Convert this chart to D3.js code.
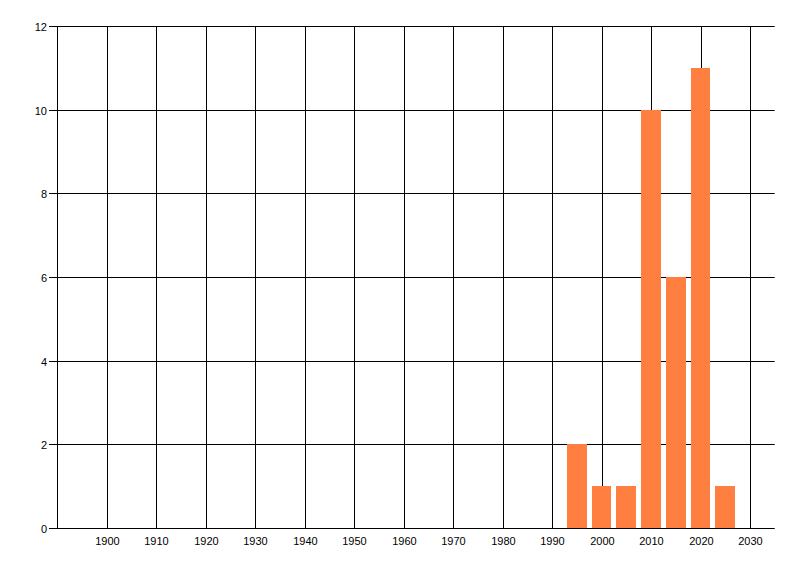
<!DOCTYPE html>
<html>
<head>
<meta charset="utf-8">
<script src="https://cdn.jsdelivr.net/npm/d3@7"></script>
<style>
html,body{margin:0;padding:0;background:#fff;}
svg{display:block;}
text{font-family:"Liberation Sans",Arial,sans-serif;font-size:11px;fill:#000;}
</style>
</head>
<body>
<svg id="chart" width="800" height="576"></svg>
<script>
const years = [1995, 2000, 2005, 2010, 2015, 2020, 2025];
const counts = [2, 1, 1, 10, 6, 11, 1];
const xTicks = [1900, 1910, 1920, 1930, 1940, 1950, 1960, 1970, 1980, 1990, 2000, 2010, 2020, 2030];
const yTicks = [0, 2, 4, 6, 8, 10, 12];

const svg = d3.select("#chart");
const x = d3.scaleLinear().domain([1890, 2035]).range([57.54, 774.7]);
const y = d3.scaleLinear().domain([0, 12]).range([528, 26]);
const px = v => Math.round(v) + 0.5;

const left = x(1890), right = x(2035);

// horizontal grid lines
svg.append("g").selectAll("line").data(yTicks).join("line")
  .attr("x1", 49).attr("x2", right)
  .attr("y1", d => px(y(d))).attr("y2", d => px(y(d)))
  .attr("stroke", "#000").attr("stroke-width", 1);

// vertical grid lines
svg.append("g").selectAll("line").data(xTicks).join("line")
  .attr("x1", d => px(x(d))).attr("x2", d => px(x(d)))
  .attr("y1", y(12)).attr("y2", px(y(0)))
  .attr("stroke", "#000").attr("stroke-width", 1);

// left axis line
svg.append("line")
  .attr("x1", px(left) - 1).attr("x2", px(left) - 1)
  .attr("y1", y(12)).attr("y2", px(y(0)) + 0.5)
  .attr("stroke", "#000");

// bars
svg.append("g").selectAll("rect").data(years.map((yr, i) => ({yr, v: counts[i]}))).join("rect")
  .attr("x", d => Math.round(x(d.yr - 2)))
  .attr("width", d => Math.round(x(d.yr + 2)) - Math.round(x(d.yr - 2)))
  .attr("y", d => Math.round(y(d.v)))
  .attr("height", d => Math.round(y(0)) - Math.round(y(d.v)))
  .attr("fill", "#ff7f40");

// y labels
svg.append("g").selectAll("text").data(yTicks).join("text")
  .attr("x", 47).attr("y", d => px(y(d)))
  .attr("text-anchor", "end").attr("dominant-baseline", "central")
  .text(d => d);

// x labels
svg.append("g").selectAll("text").data(xTicks).join("text")
  .attr("x", d => px(x(d))).attr("y", 545)
  .attr("text-anchor", "middle")
  .text(d => d);
</script>
</body>
</html>
